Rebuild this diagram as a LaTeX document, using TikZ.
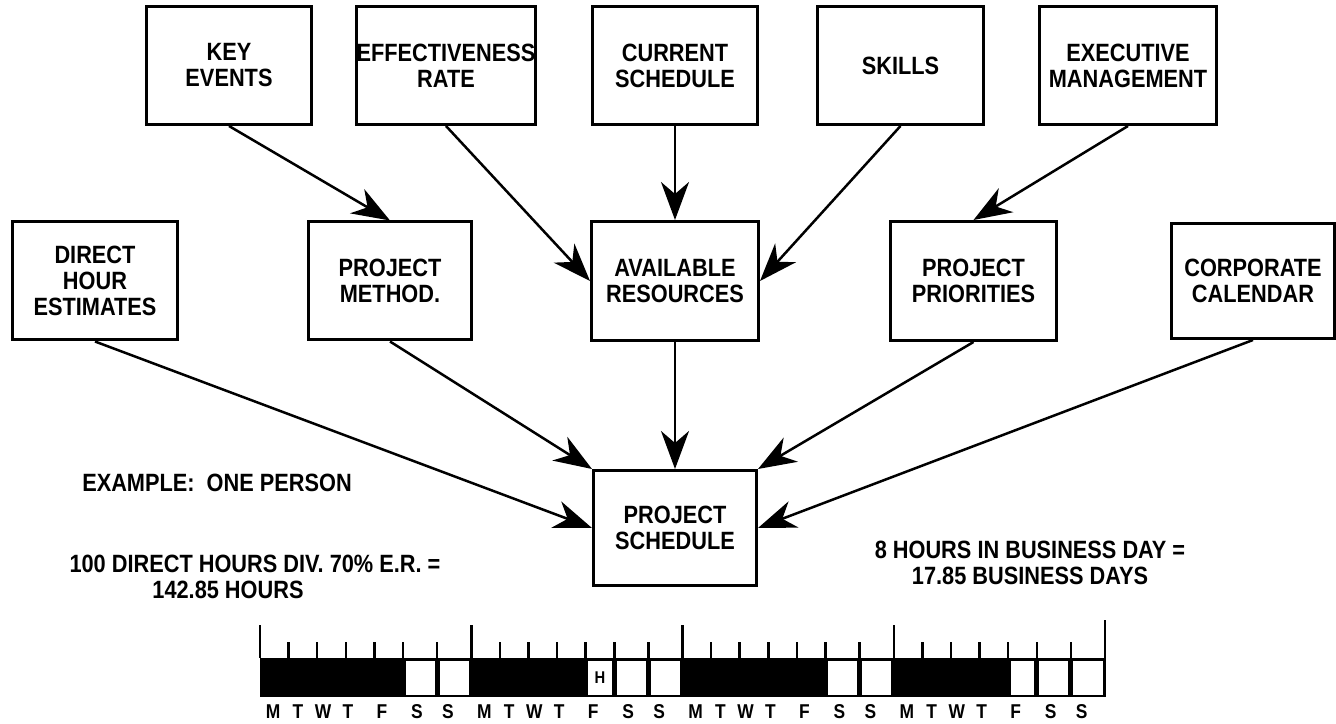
\documentclass[tikz,border=0pt]{standalone}
\usepackage{fontspec}
\setmainfont{Liberation Sans}[FakeStretch=0.87]
\usetikzlibrary{positioning}
\usetikzlibrary{arrows.meta}

\begin{document}
\begin{tikzpicture}[
		x=1pt, y=1pt,
		box/.style={
			shape=rectangle,
			draw,
			line width=3pt,
			minimum width=165pt,
			minimum height=118pt,
			inner sep=0pt,
			align=center,
			font={\fontsize{25}{26}\selectfont\bfseries}
		},
		note/.style={
			align=center,
			inner sep=0pt,
			font={\fontsize{25}{26}\selectfont\bfseries}
		},
		feeds/.style={
			line width=2.5pt,
			-{Stealth[length=38pt,width=28pt,inset=12pt]}
		},
		dayletter/.style={
			inner sep=0pt,
			font={\fontsize{20}{20}\selectfont\bfseries}
		},
		tick/.style={line width=2.5pt}
		]
		
		\useasboundingbox (0,0) rectangle (1336,723);
		
		\node[box, minimum width=163pt, minimum height=115pt] (projsched) at (675,195) {PROJECT\\SCHEDULE};
		
		\node[
		box,
		above=127pt of projsched,
		minimum width=167pt,
		minimum height=119pt
		] (availres) {AVAILABLE\\RESOURCES};
		
		\node[
		box,
		left=117pt of availres,
		minimum width=163pt
		] (projmethod) {PROJECT\\METHOD.};
		
		\node[
		box,
		left=128pt of projmethod
		] (directhours) {DIRECT\\HOUR\\ESTIMATES};
		
		\node[
		box,
		right=129pt of availres,
		minimum width=166pt,
		minimum height=119pt
		] (projprio) {PROJECT\\PRIORITIES};
		
		\node[
		box,
		right=112pt of projprio,
		minimum width=163pt,
		minimum height=115pt
		] (corpcal) {CORPORATE\\CALENDAR};
		
		\node[box, above=94pt of availres] (cursched) {CURRENT\\SCHEDULE};
		
		\node[box, left=54pt of cursched, minimum width=179pt] (effrate) {EFFECTIVENESS\\RATE};
		
		\node[box, left=42pt of effrate] (keyevents) {KEY\\EVENTS};
		
		\node[box, right=57pt of cursched, minimum width=166pt] (skills) {SKILLS};
		
		\node[box, right=53pt of skills, minimum width=177pt] (execmgmt) {EXECUTIVE\\MANAGEMENT};
		
		\node[note] (example) at (217,240) {EXAMPLE:\ \ ONE PERSON};
		\node[note] (divrate) at (255,159) {100 DIRECT HOURS DIV. 70\% E.R. =};
		\node[note] (hours) at (228,133) {142.85 HOURS};
		\node[note] (busdays) at (1030,160) {8 HOURS IN BUSINESS DAY =\\17.85 BUSINESS DAYS};
		
		%%%%%%%%%%
		
		\draw[feeds] (keyevents.south) -- (projmethod.north);
		\draw[feeds] (effrate.south) -- (availres.west);
		\draw[feeds] (cursched.south) -- (availres.north);
		\draw[feeds] (skills.south) -- (availres.east);
		\draw[feeds] (execmgmt.south) -- (projprio.north);
		
		\draw[feeds] (directhours.south) -- (projsched.west);
		\draw[feeds] (projmethod.south) -- (projsched.north west);
		\draw[feeds] (availres.south) -- (projsched.north);
		\draw[feeds] (projprio.south) -- (projsched.north east);
		\draw[feeds] (corpcal.south) -- (projsched.east);
		
		%%%%%%%%%% calendar
		
		\fill (260,26) rectangle (1105,65);
		\foreach \a/\b in {403/437.1, 437.1/471.25, 585.65/614.25, 614.25/648.3, 648.3/682.5,
			825.5/859.6, 859.6/893.75, 1008.15/1036.75, 1036.75/1070.8, 1070.8/1105}
		\fill[white] (\a+2.5,28.5) rectangle (\b-2.5,62);
		
		\node[dayletter, font={\fontsize{17}{17}\selectfont\bfseries}] (holiday) at (599.95,45) {H};
		
		\foreach \w [count=\k] in {260, 471.25, 682.5, 893.75} {
			\draw[tick] (\w,65) -- (\w,98);
			\foreach \o in {28.6, 57.2, 85.8, 114.4, 143, 177.1}
			\draw[tick] (\w+\o,65) -- (\w+\o,81);
			\foreach \d/\c [count=\i] in {M/13, T/38, W/63, T/88, F/122, S/157, S/188}
			\node[dayletter] (day\k\i) at (\w+\c,11) {\d};
		}
		\draw[tick] (1105,26) -- (1105,103);
		
	\end{tikzpicture}
\end{document}
